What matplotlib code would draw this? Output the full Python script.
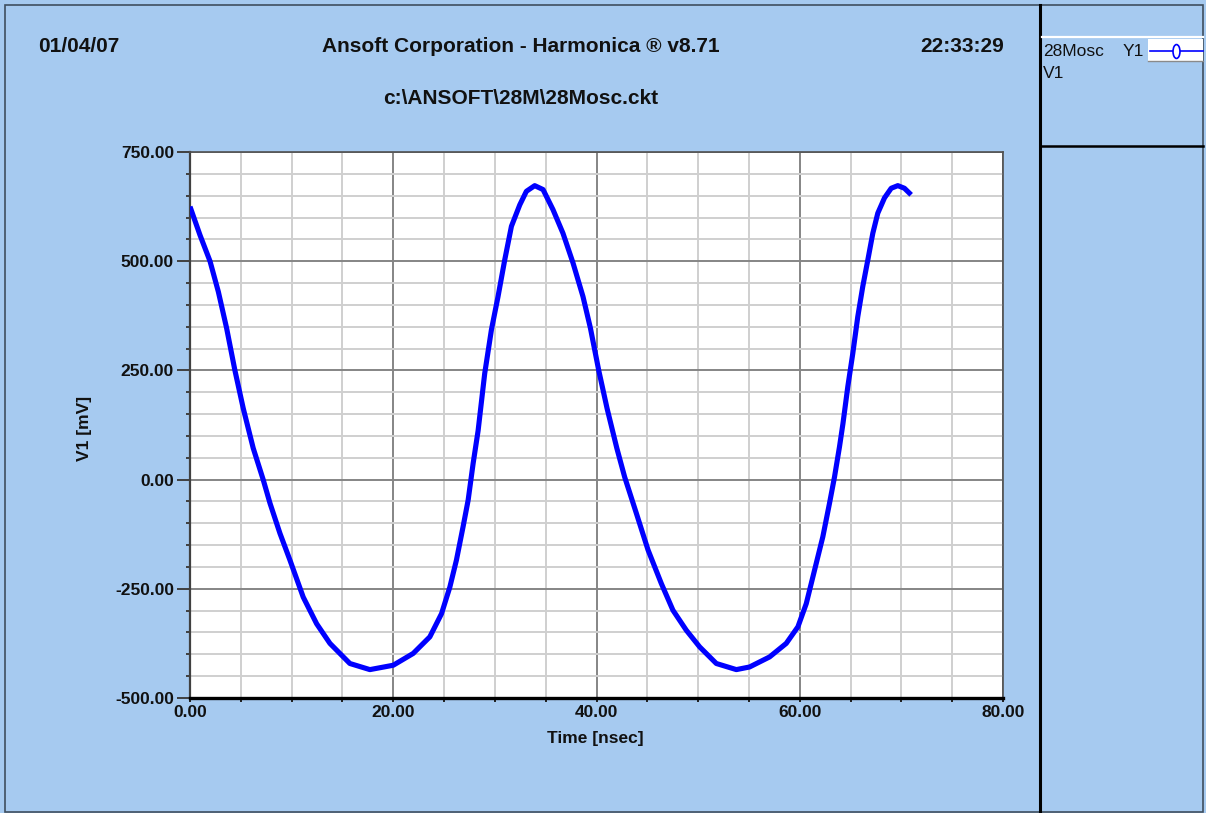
import numpy as np
import matplotlib.pyplot as plt
from matplotlib.lines import Line2D
from matplotlib.patches import Rectangle
from matplotlib.path import Path
from matplotlib.transforms import Affine2D
from matplotlib.ticker import MultipleLocator, FormatStrFormatter

# transient response of node V1 (time in nsec, voltage in mV)
time_ns = [0.0, 0.98, 1.97, 2.79, 3.6, 4.42, 5.24, 6.22, 7.2, 7.87, 8.85,
           9.83, 11.14, 12.46, 13.77, 15.73, 17.7, 20.0, 21.96, 23.6, 24.75,
           25.57, 26.22, 26.87, 27.37, 27.86, 28.35, 29.0, 29.66, 30.31, 30.97,
           31.63, 32.45, 33.1, 33.92, 34.74, 35.72, 36.7, 37.69, 38.67, 39.4,
           40.22, 41.04, 42.0, 42.77, 43.92, 45.07, 46.38, 47.52, 48.84, 50.15,
           51.79, 53.76, 55.06, 57.03, 58.67, 59.82, 60.64, 61.46, 62.27, 62.93,
           63.42, 63.91, 64.25, 64.73, 65.22, 65.71, 66.2, 66.7, 67.19, 67.68,
           68.34, 69.0, 69.65, 70.3, 70.96]
v1_mv = [625, 560, 500, 430, 347, 250, 163, 72, 0, -54, -123,
         -184, -269, -330, -375, -421, -435, -425, -398, -360, -307,
         -246, -184, -108, -47, 37, 112, 243, 343, 419, 503,
         580, 629, 660, 673, 664, 618, 564, 496, 419, 347,
         250, 163, 72, 6, -77, -161, -238, -299, -345, -383,
         -421, -435, -429, -406, -375, -337, -284, -207, -131, -54,
         6, 75, 128, 213, 289, 373, 442, 503, 564, 610,
         645, 667, 673, 667, 652]

header_left = '01/04/07'
header_title = 'Ansoft Corporation - Harmonica \u00ae v8.71'
header_right = '22:33:29'
header_file = 'c:\\ANSOFT\\28M\\28Mosc.ckt'
x_label = 'Time [nsec]'
y_label = 'V1 [mV]'
legend_circuit = '28Mosc'
legend_axis = 'Y1'
legend_trace = 'V1'

BG = '#A6CAF0'
W, H = 1206, 813


def fx(px):
    return px / W


def fy(py):
    return 1 - py / H


font = dict(family='Liberation Sans', weight='bold', size=12.5, color='#111111')
head_font = dict(family='Liberation Sans', weight='bold', size=15, color='#111111')

fig = plt.figure(figsize=(W / 100, H / 100), dpi=100, facecolor=BG)
ax = fig.add_axes([fx(190), fy(698), (1003 - 190) / W, (698 - 152) / H])
ax.set_facecolor('white')

ax.plot(time_ns, v1_mv, color='#0000FF', lw=3.7, solid_joinstyle='round',
        solid_capstyle='butt', zorder=3)

ax.set_xlim(0, 80)
ax.set_ylim(-500, 750)
ax.xaxis.set_major_locator(MultipleLocator(20))
ax.xaxis.set_minor_locator(MultipleLocator(5))
ax.yaxis.set_major_locator(MultipleLocator(250))
ax.yaxis.set_minor_locator(MultipleLocator(50))
ax.xaxis.set_major_formatter(FormatStrFormatter('%.2f'))
ax.yaxis.set_major_formatter(FormatStrFormatter('%.2f'))

ax.grid(which='minor', color='#CFCFCF', lw=1.4, zorder=0)
ax.grid(which='major', color='#858585', lw=1.4, zorder=1)
ax.set_axisbelow(True)

ax.tick_params(axis='y', which='major', length=9.5, width=1.4, color='#404040',
               pad=2, direction='out')
ax.tick_params(axis='y', which='minor', length=3, width=1.4, color='#404040',
               direction='out')
ax.tick_params(axis='x', which='both', length=3, width=1.4, color='#202020',
               pad=2, direction='out')
for lab in ax.get_xticklabels() + ax.get_yticklabels():
    lab.set_fontproperties('Liberation Sans')
    lab.set_fontweight('bold')
    lab.set_fontsize(12.5)
    lab.set_color('#111111')

ax.spines['left'].set_color('#404040')
ax.spines['left'].set_linewidth(1.6)
ax.spines['bottom'].set_color('black')
ax.spines['bottom'].set_linewidth(2.4)
ax.spines['top'].set_color('#505050')
ax.spines['top'].set_linewidth(1.2)
ax.spines['right'].set_color('#505050')
ax.spines['right'].set_linewidth(1.2)

# header texts
fig.text(fx(38), fy(47), header_left, ha='left', va='center', **head_font)
fig.text(fx(521), fy(47), header_title, ha='center', va='center', **head_font)
fig.text(fx(1004), fy(47), header_right, ha='right', va='center', **head_font)
fig.text(fx(521), fy(99), header_file, ha='center', va='center', **head_font)
fig.text(fx(595), fy(738), x_label, ha='center', va='center', **font)
fig.text(fx(85), fy(428), y_label, ha='center', va='center', rotation=90, **font)

# frame and side panel
fig.add_artist(Rectangle((fx(4.5), fy(811.5)), fx(1203 - 4.5), (811.5 - 5.5) / H,
                         transform=fig.transFigure, fill=False,
                         edgecolor='#3F4F5F', lw=1.2))
fig.add_artist(Line2D([fx(1040), fx(1040)], [fy(5.5), fy(811.5)],
                      color='black', lw=2.2))
fig.add_artist(Line2D([fx(1040), fx(1203)], [fy(146), fy(146)],
                      color='black', lw=1.8))

# legend entry
fig.add_artist(Line2D([fx(1042), fx(1203)], [fy(37), fy(37)], color='white', lw=1.6))
fig.add_artist(Rectangle((fx(1148), fy(61)), fx(55), 22 / H,
                         transform=fig.transFigure, facecolor='white',
                         edgecolor='none'))
fig.add_artist(Line2D([fx(1148), fx(1203)], [fy(61), fy(61)], color='#8A8A8A', lw=1.0))
oval = Path.unit_circle().transformed(Affine2D().scale(0.5, 1.0))
fig.add_artist(Line2D([fx(1150), fx(1203)], [fy(51), fy(51)], color='#0000FF', lw=1.2))
fig.add_artist(Line2D([fx(1176)], [fy(51)], marker=oval, markersize=10,
                      markerfacecolor='white', markeredgecolor='#0000FF',
                      markeredgewidth=1.2, linestyle='none'))
leg_font = dict(family='Liberation Sans', size=12.5, color='#111111')
fig.text(fx(1043), fy(51), legend_circuit, ha='left', va='center', **leg_font)
fig.text(fx(1123), fy(51), legend_axis, ha='left', va='center', **leg_font)
fig.text(fx(1043), fy(73), legend_trace, ha='left', va='center', **leg_font)

fig.savefig('out.png', dpi=100, facecolor=BG)
